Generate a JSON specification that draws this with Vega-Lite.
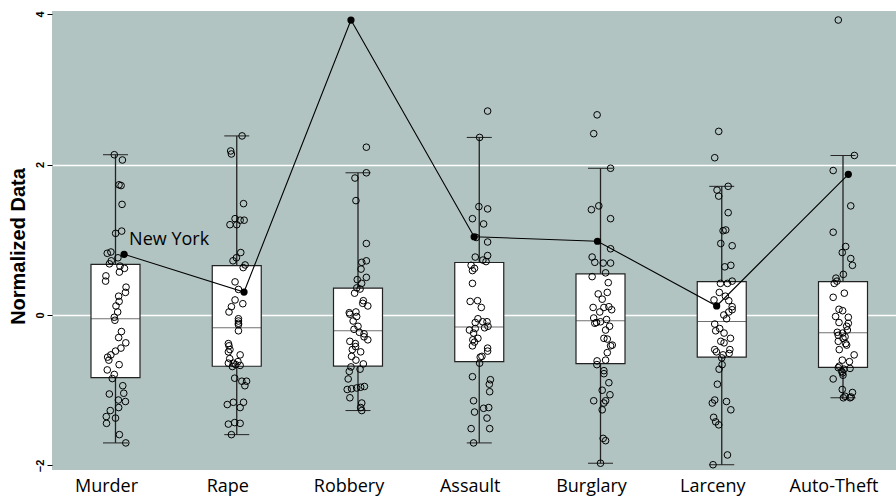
{
  "$schema": "https://vega.github.io/schema/vega-lite/v6.json",
  "width": 844,
  "height": 459,
  "autosize": {"type": "none"},
  "padding": {"left": 52, "top": 11, "right": 0, "bottom": 28},
  "background": "white",
  "config": {
    "view": {"fill": "#b2c4c1", "stroke": null}
  },
  "datasets": {
    "states": [
      {"crime": "Murder", "value": -1.70, "jitter": 0.85},
      {"crime": "Murder", "value": -1.59, "jitter": 0.32},
      {"crime": "Murder", "value": -1.44, "jitter": -0.74},
      {"crime": "Murder", "value": -1.37, "jitter": 0.0},
      {"crime": "Murder", "value": -1.35, "jitter": -0.76},
      {"crime": "Murder", "value": -1.27, "jitter": -0.43},
      {"crime": "Murder", "value": -1.23, "jitter": 0.26},
      {"crime": "Murder", "value": -1.15, "jitter": 0.82},
      {"crime": "Murder", "value": -1.13, "jitter": 0.24},
      {"crime": "Murder", "value": -1.05, "jitter": -0.51},
      {"crime": "Murder", "value": -1.04, "jitter": 0.68},
      {"crime": "Murder", "value": -0.94, "jitter": 0.6},
      {"crime": "Murder", "value": -0.845, "jitter": -0.26},
      {"crime": "Murder", "value": -0.79, "jitter": -0.1},
      {"crime": "Murder", "value": -0.73, "jitter": -0.68},
      {"crime": "Murder", "value": -0.66, "jitter": 0.3},
      {"crime": "Murder", "value": -0.60, "jitter": -0.55},
      {"crime": "Murder", "value": -0.56, "jitter": -0.65},
      {"crime": "Murder", "value": -0.53, "jitter": -0.38},
      {"crime": "Murder", "value": -0.48, "jitter": 0.0},
      {"crime": "Murder", "value": -0.44, "jitter": 0.45},
      {"crime": "Murder", "value": -0.37, "jitter": 0.85},
      {"crime": "Murder", "value": -0.30, "jitter": 0.26},
      {"crime": "Murder", "value": -0.22, "jitter": 0.49},
      {"crime": "Murder", "value": -0.07, "jitter": -0.05},
      {"crime": "Murder", "value": -0.03, "jitter": -0.1},
      {"crime": "Murder", "value": 0.04, "jitter": 0.18},
      {"crime": "Murder", "value": 0.12, "jitter": 0.04},
      {"crime": "Murder", "value": 0.18, "jitter": 0.3},
      {"crime": "Murder", "value": 0.25, "jitter": 0.26},
      {"crime": "Murder", "value": 0.30, "jitter": 0.82},
      {"crime": "Murder", "value": 0.37, "jitter": 0.87},
      {"crime": "Murder", "value": 0.45, "jitter": -0.82},
      {"crime": "Murder", "value": 0.52, "jitter": -0.79},
      {"crime": "Murder", "value": 0.57, "jitter": 0.32},
      {"crime": "Murder", "value": 0.62, "jitter": 0.74},
      {"crime": "Murder", "value": 0.65, "jitter": 0.37},
      {"crime": "Murder", "value": 0.68, "jitter": -0.5},
      {"crime": "Murder", "value": 0.72, "jitter": -0.35},
      {"crime": "Murder", "value": 0.76, "jitter": 0.2},
      {"crime": "Murder", "value": 0.806, "jitter": 0.71, "state": "New York"},
      {"crime": "Murder", "value": 0.82, "jitter": -0.68},
      {"crime": "Murder", "value": 0.837, "jitter": -0.38},
      {"crime": "Murder", "value": 1.085, "jitter": 0.01},
      {"crime": "Murder", "value": 1.115, "jitter": 0.51},
      {"crime": "Murder", "value": 1.47, "jitter": 0.54},
      {"crime": "Murder", "value": 1.72, "jitter": 0.46},
      {"crime": "Murder", "value": 1.73, "jitter": 0.29},
      {"crime": "Murder", "value": 2.06, "jitter": 0.57},
      {"crime": "Murder", "value": 2.13, "jitter": -0.1},

      {"crime": "Rape", "value": -1.59, "jitter": -0.44},
      {"crime": "Rape", "value": -1.45, "jitter": -0.69},
      {"crime": "Rape", "value": -1.44, "jitter": 0.28},
      {"crime": "Rape", "value": -1.43, "jitter": -0.17},
      {"crime": "Rape", "value": -1.23, "jitter": 0.28},
      {"crime": "Rape", "value": -1.19, "jitter": -0.78},
      {"crime": "Rape", "value": -1.16, "jitter": -0.28},
      {"crime": "Rape", "value": -1.16, "jitter": 0.56},
      {"crime": "Rape", "value": -0.94, "jitter": 0.67},
      {"crime": "Rape", "value": -0.88, "jitter": 0.42},
      {"crime": "Rape", "value": -0.88, "jitter": 0.81},
      {"crime": "Rape", "value": -0.84, "jitter": -0.17},
      {"crime": "Rape", "value": -0.685, "jitter": -0.36},
      {"crime": "Rape", "value": -0.67, "jitter": 0.28},
      {"crime": "Rape", "value": -0.66, "jitter": -0.08},
      {"crime": "Rape", "value": -0.64, "jitter": -0.69},
      {"crime": "Rape", "value": -0.64, "jitter": -0.28},
      {"crime": "Rape", "value": -0.62, "jitter": 0.1},
      {"crime": "Rape", "value": -0.58, "jitter": -0.58},
      {"crime": "Rape", "value": -0.53, "jitter": 0.28},
      {"crime": "Rape", "value": -0.49, "jitter": -0.69},
      {"crime": "Rape", "value": -0.46, "jitter": -0.56},
      {"crime": "Rape", "value": -0.41, "jitter": -0.64},
      {"crime": "Rape", "value": -0.38, "jitter": -0.69},
      {"crime": "Rape", "value": -0.21, "jitter": 0.14},
      {"crime": "Rape", "value": -0.13, "jitter": 0.14},
      {"crime": "Rape", "value": -0.11, "jitter": 0.14},
      {"crime": "Rape", "value": -0.08, "jitter": 0.14},
      {"crime": "Rape", "value": -0.05, "jitter": 0.14},
      {"crime": "Rape", "value": 0.04, "jitter": -0.64},
      {"crime": "Rape", "value": 0.11, "jitter": -0.44},
      {"crime": "Rape", "value": 0.15, "jitter": 0.5},
      {"crime": "Rape", "value": 0.20, "jitter": -0.14},
      {"crime": "Rape", "value": 0.305, "jitter": 0.6, "state": "New York"},
      {"crime": "Rape", "value": 0.34, "jitter": 0.14},
      {"crime": "Rape", "value": 0.44, "jitter": -0.14},
      {"crime": "Rape", "value": 0.63, "jitter": 0.53},
      {"crime": "Rape", "value": 0.665, "jitter": 0.69},
      {"crime": "Rape", "value": 0.72, "jitter": -0.31},
      {"crime": "Rape", "value": 0.76, "jitter": -0.03},
      {"crime": "Rape", "value": 0.83, "jitter": 0.33},
      {"crime": "Rape", "value": 1.20, "jitter": -0.56},
      {"crime": "Rape", "value": 1.20, "jitter": 0.0},
      {"crime": "Rape", "value": 1.26, "jitter": 0.28},
      {"crime": "Rape", "value": 1.26, "jitter": 0.61},
      {"crime": "Rape", "value": 1.28, "jitter": -0.14},
      {"crime": "Rape", "value": 1.48, "jitter": 0.56},
      {"crime": "Rape", "value": 2.14, "jitter": -0.44},
      {"crime": "Rape", "value": 2.18, "jitter": -0.5},
      {"crime": "Rape", "value": 2.38, "jitter": 0.44},

      {"crime": "Robbery", "value": -1.27, "jitter": 0.31},
      {"crime": "Robbery", "value": -1.23, "jitter": 0.22},
      {"crime": "Robbery", "value": -1.17, "jitter": 0.31},
      {"crime": "Robbery", "value": -1.10, "jitter": -0.67},
      {"crime": "Robbery", "value": -0.99, "jitter": -0.89},
      {"crime": "Robbery", "value": -0.98, "jitter": -0.53},
      {"crime": "Robbery", "value": -0.97, "jitter": -0.11},
      {"crime": "Robbery", "value": -0.96, "jitter": 0.22},
      {"crime": "Robbery", "value": -0.95, "jitter": 0.53},
      {"crime": "Robbery", "value": -0.85, "jitter": -0.81},
      {"crime": "Robbery", "value": -0.75, "jitter": -0.72},
      {"crime": "Robbery", "value": -0.72, "jitter": 0.17},
      {"crime": "Robbery", "value": -0.69, "jitter": -0.58},
      {"crime": "Robbery", "value": -0.65, "jitter": 0.44},
      {"crime": "Robbery", "value": -0.60, "jitter": -0.17},
      {"crime": "Robbery", "value": -0.55, "jitter": -0.53},
      {"crime": "Robbery", "value": -0.49, "jitter": 0.22},
      {"crime": "Robbery", "value": -0.46, "jitter": -0.47},
      {"crime": "Robbery", "value": -0.42, "jitter": -0.2},
      {"crime": "Robbery", "value": -0.38, "jitter": -0.22},
      {"crime": "Robbery", "value": -0.35, "jitter": -0.67},
      {"crime": "Robbery", "value": -0.33, "jitter": 0.81},
      {"crime": "Robbery", "value": -0.29, "jitter": 0.5},
      {"crime": "Robbery", "value": -0.25, "jitter": 0.5},
      {"crime": "Robbery", "value": -0.23, "jitter": 0.11},
      {"crime": "Robbery", "value": -0.19, "jitter": -0.33},
      {"crime": "Robbery", "value": -0.15, "jitter": 0.0},
      {"crime": "Robbery", "value": -0.08, "jitter": -0.4},
      {"crime": "Robbery", "value": -0.02, "jitter": -0.11},
      {"crime": "Robbery", "value": 0.01, "jitter": -0.67},
      {"crime": "Robbery", "value": 0.03, "jitter": -0.72},
      {"crime": "Robbery", "value": 0.04, "jitter": -0.17},
      {"crime": "Robbery", "value": 0.12, "jitter": 0.81},
      {"crime": "Robbery", "value": 0.155, "jitter": 0.39},
      {"crime": "Robbery", "value": 0.19, "jitter": 0.44},
      {"crime": "Robbery", "value": 0.29, "jitter": -0.28},
      {"crime": "Robbery", "value": 0.345, "jitter": 0.17},
      {"crime": "Robbery", "value": 0.36, "jitter": -0.1},
      {"crime": "Robbery", "value": 0.42, "jitter": 0.3},
      {"crime": "Robbery", "value": 0.47, "jitter": -0.06},
      {"crime": "Robbery", "value": 0.50, "jitter": 0.69},
      {"crime": "Robbery", "value": 0.61, "jitter": 0.25},
      {"crime": "Robbery", "value": 0.70, "jitter": 0.31},
      {"crime": "Robbery", "value": 0.72, "jitter": 0.69},
      {"crime": "Robbery", "value": 0.95, "jitter": 0.69},
      {"crime": "Robbery", "value": 1.52, "jitter": -0.17},
      {"crime": "Robbery", "value": 1.82, "jitter": -0.25},
      {"crime": "Robbery", "value": 1.89, "jitter": 0.69},
      {"crime": "Robbery", "value": 2.23, "jitter": 0.69},
      {"crime": "Robbery", "value": 3.92, "jitter": -0.58, "state": "New York"},

      {"crime": "Assault", "value": -1.70, "jitter": -0.47},
      {"crime": "Assault", "value": -1.51, "jitter": -0.67},
      {"crime": "Assault", "value": -1.51, "jitter": 0.86},
      {"crime": "Assault", "value": -1.37, "jitter": 0.64},
      {"crime": "Assault", "value": -1.29, "jitter": -0.39},
      {"crime": "Assault", "value": -1.24, "jitter": 0.36},
      {"crime": "Assault", "value": -1.23, "jitter": 0.78},
      {"crime": "Assault", "value": -1.14, "jitter": -0.47},
      {"crime": "Assault", "value": -1.02, "jitter": 0.86},
      {"crime": "Assault", "value": -0.92, "jitter": 0.83},
      {"crime": "Assault", "value": -0.86, "jitter": 0.92},
      {"crime": "Assault", "value": -0.82, "jitter": -0.56},
      {"crime": "Assault", "value": -0.64, "jitter": 0.03},
      {"crime": "Assault", "value": -0.56, "jitter": 0.08},
      {"crime": "Assault", "value": -0.55, "jitter": 0.22},
      {"crime": "Assault", "value": -0.48, "jitter": 0.69},
      {"crime": "Assault", "value": -0.44, "jitter": 0.69},
      {"crime": "Assault", "value": -0.41, "jitter": -0.56},
      {"crime": "Assault", "value": -0.36, "jitter": -0.39},
      {"crime": "Assault", "value": -0.33, "jitter": -0.53},
      {"crime": "Assault", "value": -0.31, "jitter": -0.11},
      {"crime": "Assault", "value": -0.24, "jitter": -0.47},
      {"crime": "Assault", "value": -0.20, "jitter": -0.81},
      {"crime": "Assault", "value": -0.18, "jitter": -0.33},
      {"crime": "Assault", "value": -0.17, "jitter": 0.44},
      {"crime": "Assault", "value": -0.15, "jitter": 0.72},
      {"crime": "Assault", "value": -0.10, "jitter": -0.33},
      {"crime": "Assault", "value": -0.09, "jitter": 0.28},
      {"crime": "Assault", "value": -0.09, "jitter": 0.64},
      {"crime": "Assault", "value": -0.05, "jitter": -0.11},
      {"crime": "Assault", "value": 0.10, "jitter": 0.17},
      {"crime": "Assault", "value": 0.18, "jitter": -0.75},
      {"crime": "Assault", "value": 0.19, "jitter": -0.14},
      {"crime": "Assault", "value": 0.42, "jitter": -0.56},
      {"crime": "Assault", "value": 0.59, "jitter": -0.56},
      {"crime": "Assault", "value": 0.62, "jitter": -0.39},
      {"crime": "Assault", "value": 0.66, "jitter": -0.67},
      {"crime": "Assault", "value": 0.71, "jitter": 0.56},
      {"crime": "Assault", "value": 0.73, "jitter": 0.3},
      {"crime": "Assault", "value": 0.77, "jitter": -0.33},
      {"crime": "Assault", "value": 0.79, "jitter": 0.69},
      {"crime": "Assault", "value": 0.97, "jitter": 0.69},
      {"crime": "Assault", "value": 1.03, "jitter": -0.25},
      {"crime": "Assault", "value": 1.04, "jitter": -0.42, "state": "New York"},
      {"crime": "Assault", "value": 1.21, "jitter": 0.36},
      {"crime": "Assault", "value": 1.28, "jitter": -0.56},
      {"crime": "Assault", "value": 1.41, "jitter": 0.69},
      {"crime": "Assault", "value": 1.44, "jitter": -0.03},
      {"crime": "Assault", "value": 2.36, "jitter": 0.03},
      {"crime": "Assault", "value": 2.71, "jitter": 0.69},

      {"crime": "Burglary", "value": -1.97, "jitter": 0.0},
      {"crime": "Burglary", "value": -1.67, "jitter": 0.42},
      {"crime": "Burglary", "value": -1.64, "jitter": 0.22},
      {"crime": "Burglary", "value": -1.26, "jitter": 0.14},
      {"crime": "Burglary", "value": -1.17, "jitter": 0.28},
      {"crime": "Burglary", "value": -1.14, "jitter": -0.56},
      {"crime": "Burglary", "value": -1.14, "jitter": 0.42},
      {"crime": "Burglary", "value": -1.06, "jitter": 0.78},
      {"crime": "Burglary", "value": -1.00, "jitter": 0.14},
      {"crime": "Burglary", "value": -0.90, "jitter": 0.69},
      {"crime": "Burglary", "value": -0.78, "jitter": 0.28},
      {"crime": "Burglary", "value": -0.74, "jitter": 0.28},
      {"crime": "Burglary", "value": -0.66, "jitter": -0.3},
      {"crime": "Burglary", "value": -0.61, "jitter": -0.28},
      {"crime": "Burglary", "value": -0.60, "jitter": 0.42},
      {"crime": "Burglary", "value": -0.50, "jitter": 0.56},
      {"crime": "Burglary", "value": -0.41, "jitter": 0.83},
      {"crime": "Burglary", "value": -0.40, "jitter": 0.97},
      {"crime": "Burglary", "value": -0.32, "jitter": 0.56},
      {"crime": "Burglary", "value": -0.31, "jitter": 0.28},
      {"crime": "Burglary", "value": -0.20, "jitter": 0.42},
      {"crime": "Burglary", "value": -0.15, "jitter": 0.75},
      {"crime": "Burglary", "value": -0.11, "jitter": -0.47},
      {"crime": "Burglary", "value": -0.10, "jitter": -0.33},
      {"crime": "Burglary", "value": -0.09, "jitter": 0.0},
      {"crime": "Burglary", "value": -0.06, "jitter": 0.5},
      {"crime": "Burglary", "value": -0.04, "jitter": -0.56},
      {"crime": "Burglary", "value": 0.04, "jitter": -0.06},
      {"crime": "Burglary", "value": 0.07, "jitter": 0.92},
      {"crime": "Burglary", "value": 0.10, "jitter": -0.61},
      {"crime": "Burglary", "value": 0.10, "jitter": 0.28},
      {"crime": "Burglary", "value": 0.11, "jitter": 0.69},
      {"crime": "Burglary", "value": 0.21, "jitter": 0.14},
      {"crime": "Burglary", "value": 0.28, "jitter": -0.19},
      {"crime": "Burglary", "value": 0.30, "jitter": 0.56},
      {"crime": "Burglary", "value": 0.43, "jitter": 0.64},
      {"crime": "Burglary", "value": 0.51, "jitter": -0.69},
      {"crime": "Burglary", "value": 0.56, "jitter": 0.42},
      {"crime": "Burglary", "value": 0.69, "jitter": 0.22},
      {"crime": "Burglary", "value": 0.69, "jitter": 0.83},
      {"crime": "Burglary", "value": 0.70, "jitter": -0.47},
      {"crime": "Burglary", "value": 0.77, "jitter": -0.69},
      {"crime": "Burglary", "value": 0.88, "jitter": 0.83},
      {"crime": "Burglary", "value": 0.98, "jitter": -0.25, "state": "New York"},
      {"crime": "Burglary", "value": 1.28, "jitter": 0.83},
      {"crime": "Burglary", "value": 1.40, "jitter": -0.75},
      {"crime": "Burglary", "value": 1.45, "jitter": -0.14},
      {"crime": "Burglary", "value": 1.95, "jitter": 0.83},
      {"crime": "Burglary", "value": 2.41, "jitter": -0.56},
      {"crime": "Burglary", "value": 2.66, "jitter": -0.28},

      {"crime": "Larceny", "value": -1.99, "jitter": -0.72},
      {"crime": "Larceny", "value": -1.86, "jitter": 0.47},
      {"crime": "Larceny", "value": -1.46, "jitter": -0.25},
      {"crime": "Larceny", "value": -1.42, "jitter": -0.5},
      {"crime": "Larceny", "value": -1.36, "jitter": -0.67},
      {"crime": "Larceny", "value": -1.26, "jitter": 0.75},
      {"crime": "Larceny", "value": -1.17, "jitter": -0.78},
      {"crime": "Larceny", "value": -1.15, "jitter": 0.39},
      {"crime": "Larceny", "value": -1.13, "jitter": -0.58},
      {"crime": "Larceny", "value": -0.92, "jitter": -0.36},
      {"crime": "Larceny", "value": -0.72, "jitter": -0.22},
      {"crime": "Larceny", "value": -0.66, "jitter": 0.03},
      {"crime": "Larceny", "value": -0.57, "jitter": 0.0},
      {"crime": "Larceny", "value": -0.53, "jitter": 0.11},
      {"crime": "Larceny", "value": -0.51, "jitter": 0.61},
      {"crime": "Larceny", "value": -0.49, "jitter": -0.44},
      {"crime": "Larceny", "value": -0.46, "jitter": -0.58},
      {"crime": "Larceny", "value": -0.46, "jitter": 0.67},
      {"crime": "Larceny", "value": -0.37, "jitter": 0.19},
      {"crime": "Larceny", "value": -0.35, "jitter": -0.08},
      {"crime": "Larceny", "value": -0.31, "jitter": 0.72},
      {"crime": "Larceny", "value": -0.24, "jitter": 0.19},
      {"crime": "Larceny", "value": -0.21, "jitter": -0.5},
      {"crime": "Larceny", "value": -0.18, "jitter": -0.17},
      {"crime": "Larceny", "value": -0.12, "jitter": -0.58},
      {"crime": "Larceny", "value": -0.05, "jitter": 0.4},
      {"crime": "Larceny", "value": 0.00, "jitter": 0.17},
      {"crime": "Larceny", "value": 0.04, "jitter": 0.58},
      {"crime": "Larceny", "value": 0.07, "jitter": 0.86},
      {"crime": "Larceny", "value": 0.11, "jitter": 0.86},
      {"crime": "Larceny", "value": 0.12, "jitter": -0.42, "state": "New York"},
      {"crime": "Larceny", "value": 0.19, "jitter": 0.58},
      {"crime": "Larceny", "value": 0.20, "jitter": -0.64},
      {"crime": "Larceny", "value": 0.25, "jitter": 0.3},
      {"crime": "Larceny", "value": 0.30, "jitter": -0.2},
      {"crime": "Larceny", "value": 0.42, "jitter": -0.11},
      {"crime": "Larceny", "value": 0.42, "jitter": 0.47},
      {"crime": "Larceny", "value": 0.45, "jitter": 0.86},
      {"crime": "Larceny", "value": 0.64, "jitter": 0.25},
      {"crime": "Larceny", "value": 0.66, "jitter": 0.75},
      {"crime": "Larceny", "value": 0.92, "jitter": 0.86},
      {"crime": "Larceny", "value": 0.95, "jitter": -0.08},
      {"crime": "Larceny", "value": 1.12, "jitter": 0.11},
      {"crime": "Larceny", "value": 1.13, "jitter": 0.33},
      {"crime": "Larceny", "value": 1.36, "jitter": 0.53},
      {"crime": "Larceny", "value": 1.58, "jitter": -0.25},
      {"crime": "Larceny", "value": 1.66, "jitter": -0.39},
      {"crime": "Larceny", "value": 1.71, "jitter": 0.53},
      {"crime": "Larceny", "value": 2.09, "jitter": -0.58},
      {"crime": "Larceny", "value": 2.44, "jitter": -0.25},

      {"crime": "Auto-Theft", "value": -1.10, "jitter": 0.03},
      {"crime": "Auto-Theft", "value": -1.10, "jitter": 0.58},
      {"crime": "Auto-Theft", "value": -1.09, "jitter": 0.67},
      {"crime": "Auto-Theft", "value": -1.08, "jitter": 0.17},
      {"crime": "Auto-Theft", "value": -1.03, "jitter": 0.78},
      {"crime": "Auto-Theft", "value": -0.99, "jitter": -0.06},
      {"crime": "Auto-Theft", "value": -0.85, "jitter": -0.81},
      {"crime": "Auto-Theft", "value": -0.80, "jitter": 0.0},
      {"crime": "Auto-Theft", "value": -0.77, "jitter": -0.03},
      {"crime": "Auto-Theft", "value": -0.75, "jitter": -0.11},
      {"crime": "Auto-Theft", "value": -0.72, "jitter": 0.08},
      {"crime": "Auto-Theft", "value": -0.71, "jitter": 0.58},
      {"crime": "Auto-Theft", "value": -0.70, "jitter": -0.39},
      {"crime": "Auto-Theft", "value": -0.68, "jitter": -0.31},
      {"crime": "Auto-Theft", "value": -0.62, "jitter": 0.53},
      {"crime": "Auto-Theft", "value": -0.60, "jitter": -0.06},
      {"crime": "Auto-Theft", "value": -0.53, "jitter": 0.92},
      {"crime": "Auto-Theft", "value": -0.46, "jitter": -0.31},
      {"crime": "Auto-Theft", "value": -0.40, "jitter": 0.3},
      {"crime": "Auto-Theft", "value": -0.38, "jitter": 0.22},
      {"crime": "Auto-Theft", "value": -0.35, "jitter": -0.39},
      {"crime": "Auto-Theft", "value": -0.31, "jitter": 0.0},
      {"crime": "Auto-Theft", "value": -0.29, "jitter": 0.17},
      {"crime": "Auto-Theft", "value": -0.27, "jitter": -0.39},
      {"crime": "Auto-Theft", "value": -0.24, "jitter": -0.03},
      {"crime": "Auto-Theft", "value": -0.23, "jitter": -0.47},
      {"crime": "Auto-Theft", "value": -0.20, "jitter": 0.36},
      {"crime": "Auto-Theft", "value": -0.15, "jitter": 0.3},
      {"crime": "Auto-Theft", "value": -0.11, "jitter": 0.44},
      {"crime": "Auto-Theft", "value": -0.10, "jitter": -0.33},
      {"crime": "Auto-Theft", "value": -0.03, "jitter": 0.44},
      {"crime": "Auto-Theft", "value": -0.02, "jitter": -0.61},
      {"crime": "Auto-Theft", "value": 0.057, "jitter": -0.03},
      {"crime": "Auto-Theft", "value": 0.076, "jitter": -0.33},
      {"crime": "Auto-Theft", "value": 0.235, "jitter": -0.81},
      {"crime": "Auto-Theft", "value": 0.29, "jitter": 0.11},
      {"crime": "Auto-Theft", "value": 0.42, "jitter": -0.72},
      {"crime": "Auto-Theft", "value": 0.45, "jitter": -0.5},
      {"crime": "Auto-Theft", "value": 0.49, "jitter": -0.58},
      {"crime": "Auto-Theft", "value": 0.54, "jitter": 0.03},
      {"crime": "Auto-Theft", "value": 0.66, "jitter": 0.78},
      {"crime": "Auto-Theft", "value": 0.75, "jitter": 0.64},
      {"crime": "Auto-Theft", "value": 0.83, "jitter": -0.06},
      {"crime": "Auto-Theft", "value": 0.91, "jitter": 0.22},
      {"crime": "Auto-Theft", "value": 1.10, "jitter": -0.81},
      {"crime": "Auto-Theft", "value": 1.45, "jitter": 0.64},
      {"crime": "Auto-Theft", "value": 1.87, "jitter": 0.44, "state": "New York"},
      {"crime": "Auto-Theft", "value": 1.92, "jitter": -0.81},
      {"crime": "Auto-Theft", "value": 2.12, "jitter": 0.94},
      {"crime": "Auto-Theft", "value": 3.92, "jitter": -0.39}
    ]
  },
  "data": {"name": "states"},
  "encoding": {
    "x": {
      "field": "crime",
      "type": "nominal",
      "sort": ["Murder", "Rape", "Robbery", "Assault", "Burglary", "Larceny", "Auto-Theft"],
      "scale": {"type": "band", "paddingInner": 0.5, "paddingOuter": 0.2304, "align": 0.594},
      "axis": {
        "title": null,
        "domain": false,
        "ticks": false,
        "labelAngle": 0,
        "labelFont": "Open Sans",
        "labelFontSize": 18,
        "labelColor": "black",
        "labelPadding": 7,
        "labelOffset": -9
      }
    },
    "y": {
      "field": "value",
      "type": "quantitative",
      "scale": {"domain": [-2.06, 4.04], "nice": false, "zero": false},
      "axis": {
        "title": "Normalized Data",
        "titleFont": "Liberation Sans",
        "titleFontSize": 20,
        "titleFontWeight": "bold",
        "titleColor": "black",
        "titlePadding": 6,
        "titleY": 235,
        "values": [-2, 0, 2, 4],
        "domain": false,
        "grid": true,
        "gridColor": "white",
        "gridWidth": 1.3,
        "gridOpacity": {"condition": {"test": "datum.value === 0 || datum.value === 2", "value": 1}, "value": 0},
        "tickColor": "black",
        "tickSize": 5,
        "labelAngle": -90,
        "labelFont": "Liberation Sans",
        "labelFontWeight": "bold",
        "labelFontSize": 11,
        "labelColor": "black",
        "labelPadding": 2
      }
    }
  },
  "layer": [
    {
      "mark": {
        "type": "boxplot",
        "extent": 1.5,
        "size": 49,
        "outliers": false,
        "box": {"fill": "white", "stroke": "#222222", "strokeWidth": 1.2},
        "median": {"color": "#333333", "strokeWidth": 1.2},
        "rule": {"color": "#222222", "strokeWidth": 1.3},
        "ticks": {"color": "#222222", "size": 25, "strokeWidth": 1.3}
      }
    },
    {
      "transform": [{"filter": "datum.state !== 'New York'"}],
      "mark": {"type": "point", "shape": "circle", "filled": false, "stroke": "black", "strokeWidth": 1, "size": 44, "opacity": 1},
      "encoding": {
        "xOffset": {"field": "jitter", "type": "quantitative", "scale": {"domain": [-2.5, 2.5]}}
      }
    },
    {
      "transform": [{"filter": "datum.state === 'New York'"}],
      "mark": {"type": "line", "color": "black", "strokeWidth": 1.1},
      "encoding": {
        "xOffset": {"field": "jitter", "type": "quantitative", "scale": {"domain": [-2.5, 2.5]}}
      }
    },
    {
      "transform": [{"filter": "datum.state === 'New York'"}],
      "mark": {"type": "circle", "color": "black", "size": 52, "opacity": 1},
      "encoding": {
        "xOffset": {"field": "jitter", "type": "quantitative", "scale": {"domain": [-2.5, 2.5]}}
      }
    },
    {
      "transform": [{"filter": "datum.state === 'New York' && datum.crime === 'Murder'"}],
      "mark": {"type": "text", "align": "left", "baseline": "alphabetic", "dx": 5, "dy": -9, "font": "Open Sans", "fontSize": 18, "color": "black"},
      "encoding": {
        "xOffset": {"field": "jitter", "type": "quantitative", "scale": {"domain": [-2.5, 2.5]}},
        "text": {"field": "state"}
      }
    }
  ]
}
